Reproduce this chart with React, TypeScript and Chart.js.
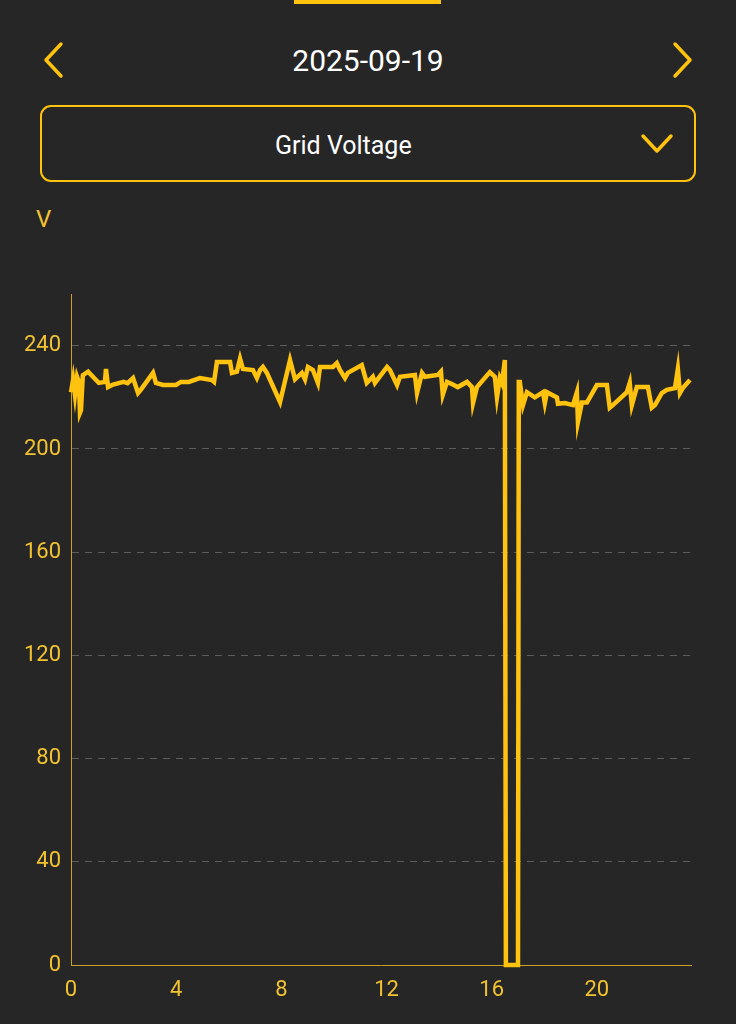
import React, { useEffect, useRef } from 'react';
import { Chart, registerables } from 'chart.js';

Chart.register(...registerables);

const dateLabel = '2025-09-19';
const metricLabel = 'Grid Voltage';
const unitLabel = 'V';

// time of day (hours)
const hours = [
  0, 0.08, 0.15, 0.23, 0.3, 0.34, 0.38, 0.45, 0.65, 1.06,
  1.29, 1.33, 1.41, 1.6, 2.0, 2.15, 2.36, 2.55, 2.66, 3.12,
  3.23, 3.5, 3.99, 4.18, 4.48, 4.9, 5.36, 5.44, 5.55, 6.05,
  6.12, 6.31, 6.43, 6.54, 6.92, 7.07, 7.19, 7.3, 7.45, 7.95,
  8.33, 8.52, 8.78, 8.9, 9.01, 9.2, 9.39, 9.47, 9.96, 10.11,
  10.23, 10.42, 10.53, 11.06, 11.25, 11.48, 11.56, 12.02, 12.13, 12.4,
  12.51, 13.08, 13.16, 13.35, 13.46, 13.95, 14.07, 14.14, 14.3, 14.52,
  14.71, 15.06, 15.25, 15.29, 15.44, 15.93, 16.12, 16.2, 16.31, 16.39,
  16.5, 16.54, 17.0, 17.03, 17.07, 17.15, 17.19, 17.34, 17.64, 17.95,
  18.02, 18.1, 18.48, 18.52, 18.78, 19.09, 19.24, 19.28, 19.43, 19.62,
  20.0, 20.38, 20.49, 20.61, 21.14, 21.25, 21.33, 21.52, 21.94, 22.09,
  22.21, 22.47, 22.66, 22.97, 23.08, 23.16, 23.27, 23.54,
];

// grid voltage (V)
const volts = [
  222, 227, 221, 228, 226, 214, 215, 228.6, 230, 225.6,
  226, 231, 224, 225, 226, 225.5, 227.5, 221.7, 223, 229.5,
  225.6, 224.8, 224.8, 226, 226, 227.5, 226.7, 226, 233.7, 233.7,
  229.5, 230, 235, 231, 230.6, 227.5, 230.6, 231.8, 229.5, 218.2,
  234.5, 227, 229.5, 227, 231.8, 230.6, 225.6, 231.8, 231.8, 233.3,
  230.6, 227.5, 229.5, 232.5, 225.6, 228, 225.6, 231.8, 230.6, 224.8,
  228, 228.7, 221.7, 229.5, 228, 228.7, 230, 221, 226, 225,
  224, 226, 224, 217.8, 224, 229.8, 228, 220, 227.5, 225.6,
  234.5, 0, 0, 226, 226, 220, 217, 222, 220, 222,
  217.8, 222, 220, 217.5, 217.8, 217, 222, 210.5, 218, 218,
  224.8, 224.8, 216, 217, 222, 225.6, 217, 224, 224, 216,
  217, 221.7, 222.9, 223.6, 231, 221.7, 223.6, 226.7,
];

const xTicks = [0, 4, 8, 12, 16, 20];
const yTicks = [0, 40, 80, 120, 160, 200, 240];
const xMax = 23.58;
const yMax = 260;

const BG = '#262626';
const GOLD = '#FFC20E';
const TICK = '#F2C230';
const AXIS = '#C9A227';
const GRID = '#5c5c5c';

export default function App() {
  const ref = useRef<HTMLCanvasElement>(null);

  useEffect(() => {
    document.body.style.margin = '0';
    document.body.style.background = BG;
    const chart = new Chart(ref.current as HTMLCanvasElement, {
      type: 'line',
      data: {
        datasets: [
          {
            data: hours.map((h, i) => ({ x: h, y: volts[i] })),
            borderColor: GOLD,
            borderWidth: 4.5,
            pointRadius: 0,
            tension: 0,
            fill: false,
            clip: 6,
          } as any,
        ],
      },
      options: {
        animation: false,
        responsive: false,
        maintainAspectRatio: false,
        layout: { padding: { top: 6, right: 45, left: 0, bottom: 0 } },
        plugins: { legend: { display: false }, tooltip: { enabled: false } },
        scales: {
          x: {
            type: 'linear',
            min: 0,
            max: xMax,
            afterBuildTicks: (s: any) => {
              s.ticks = xTicks.map((v) => ({ value: v }));
            },
            afterFit: (s: any) => {
              s.height = 55;
            },
            grid: { display: true, color: 'transparent', drawTicks: false },
            border: { display: true, color: AXIS, width: 1 },
            ticks: {
              color: TICK,
              font: { family: 'Roboto', size: 22 },
              padding: 12,
              maxRotation: 0,
              autoSkip: false,
            },
          },
          y: {
            type: 'linear',
            min: 0,
            max: yMax,
            afterBuildTicks: (s: any) => {
              s.ticks = yTicks.map((v) => ({ value: v }));
            },
            afterFit: (s: any) => {
              s.width = 71;
            },
            grid: {
              color: (ctx: any) => (ctx.tick && ctx.tick.value === 0 ? 'transparent' : GRID),
              drawTicks: false,
              lineWidth: 1,
            },
            border: { display: true, color: AXIS, width: 1, dash: [7, 6] },
            ticks: {
              color: TICK,
              font: { family: 'Roboto', size: 22 },
              padding: 10,
            },
          },
        },
      },
    });
    return () => chart.destroy();
  }, []);

  return (
    <div
      style={{
        position: 'relative',
        width: 736,
        height: 1024,
        background: BG,
        overflow: 'hidden',
        fontFamily: 'Roboto, sans-serif',
      }}
    >
      <svg
        width={736}
        height={1024}
        style={{ position: 'absolute', left: 0, top: 0 }}
      >
        <rect x={294} y={0} width={147} height={4} fill={GOLD} />
        <polyline
          points="61,44 46,60 61,76"
          fill="none"
          stroke={GOLD}
          strokeWidth={3.5}
          strokeLinecap="round"
          strokeLinejoin="round"
        />
        <polyline
          points="675,44 690,60 675,76"
          fill="none"
          stroke={GOLD}
          strokeWidth={3.5}
          strokeLinecap="round"
          strokeLinejoin="round"
        />
        <rect
          x={41}
          y={106}
          width={654}
          height={75}
          rx={10}
          ry={10}
          fill="none"
          stroke={GOLD}
          strokeWidth={2}
        />
        <polyline
          points="643,136 657,151 671,136"
          fill="none"
          stroke={GOLD}
          strokeWidth={3.5}
          strokeLinecap="round"
          strokeLinejoin="round"
        />
      </svg>
      <div
        style={{
          position: 'absolute',
          left: 0,
          top: 46,
          width: 736,
          textAlign: 'center',
          color: '#ffffff',
          fontSize: 30,
          lineHeight: '30px',
        }}
      >
        {dateLabel}
      </div>
      <div
        style={{
          position: 'absolute',
          left: 275,
          top: 133,
          color: '#ffffff',
          fontSize: 25,
          lineHeight: '25px',
          whiteSpace: 'nowrap',
        }}
      >
        {metricLabel}
      </div>
      <div
        style={{
          position: 'absolute',
          left: 36,
          top: 207,
          color: TICK,
          fontSize: 24,
          lineHeight: '24px',
        }}
      >
        {unitLabel}
      </div>
      <canvas
        ref={ref}
        width={736}
        height={749}
        style={{ position: 'absolute', left: 0, top: 271, width: 736, height: 749, display: 'block' }}
      />
    </div>
  );
}
